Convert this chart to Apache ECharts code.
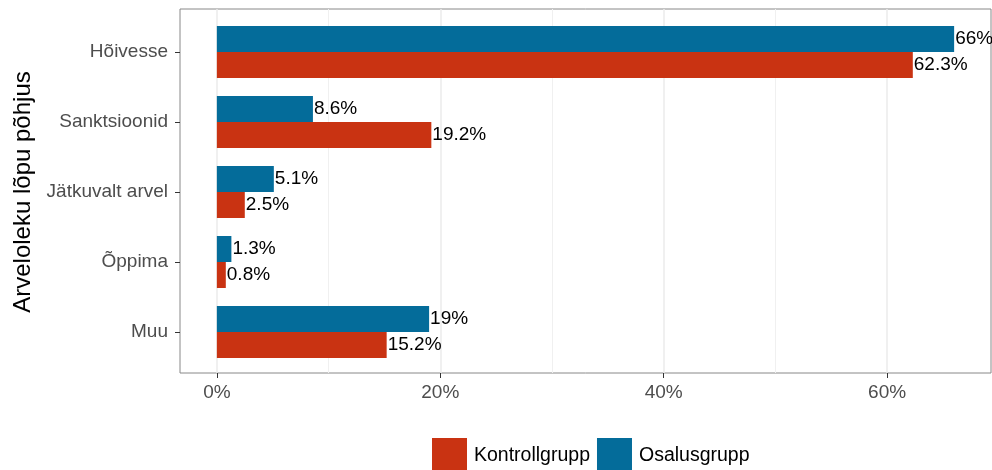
<!DOCTYPE html>
<html>
<head>
<meta charset="utf-8">
<script src="https://cdn.jsdelivr.net/npm/echarts@6/dist/echarts.min.js"></script>
<style>
  html, body { margin: 0; padding: 0; background: #ffffff; }
  #chart { width: 992px; height: 470px; }
</style>
</head>
<body>
<div id="chart"></div>
<script>
// Reasons for leaving the register, share of each group (%)
const categories = ['Hõivesse', 'Sanktsioonid', 'Jätkuvalt arvel', 'Õppima', 'Muu'];
const kontrollgrupp = [62.3, 19.2, 2.5, 0.8, 15.2];
const osalusgrupp = [66, 8.6, 5.1, 1.3, 19];
const majorTicks = [0, 20, 40, 60];
const minorTicks = [10, 30, 50];
const xMin = -3.3;
const xMax = 69.3;

const FONT = '"Liberation Sans", Arial, sans-serif';
const RED = '#C93312';
const BLUE = '#046C9A';

const chart = echarts.init(document.getElementById('chart'), null, { renderer: 'canvas' });

const barLabel = {
  show: true,
  position: 'right',
  distance: 1,
  color: '#000000',
  fontSize: 19,
  fontFamily: FONT,
  formatter: p => p.value + '%'
};

chart.setOption({
  animation: false,
  backgroundColor: '#ffffff',
  textStyle: { fontFamily: FONT },
  grid: [
    // panel with border and vertical gridlines
    { left: 180, right: 1, top: 9, height: 364, show: true, borderColor: '#888888', borderWidth: 1, backgroundColor: 'transparent', z: 0 },
    // bar area, categories spaced inside the panel
    { left: 180, right: 1, top: 17, height: 350, show: false }
  ],
  xAxis: [
    {
      type: 'value', gridIndex: 0, position: 'bottom',
      min: xMin, max: xMax, minInterval: 20, maxInterval: 20,
      axisLine: { show: false },
      axisTick: { show: true, customValues: majorTicks, length: 5, lineStyle: { color: '#333333', width: 1 } },
      axisLabel: { customValues: majorTicks, formatter: v => v + '%', color: '#4D4D4D', fontSize: 19, fontFamily: FONT, margin: 10 },
      splitLine: { show: true, lineStyle: { color: '#EBEBEB', width: 1.5 } }
    },
    {
      type: 'value', gridIndex: 0, position: 'top',
      min: xMin, max: xMax,
      axisLine: { show: false },
      axisTick: { show: false, customValues: minorTicks },
      axisLabel: { show: false, customValues: minorTicks },
      splitLine: { show: true, lineStyle: { color: '#F0F0F0', width: 1 } }
    },
    {
      type: 'value', gridIndex: 1,
      min: xMin, max: xMax,
      show: false
    }
  ],
  yAxis: [
    { type: 'value', gridIndex: 0, show: false, min: 0, max: 1, splitLine: { show: false } },
    {
      type: 'category', gridIndex: 1, data: categories, inverse: true,
      position: 'left',
      axisLine: { show: false, onZero: false },
      axisTick: { show: true, alignWithLabel: true, length: 5, lineStyle: { color: '#333333', width: 1 } },
      axisLabel: { color: '#4D4D4D', fontSize: 19, fontFamily: FONT, margin: 12 },
      splitLine: { show: false },
      name: 'Arveloleku lõpu põhjus',
      nameLocation: 'middle',
      nameRotate: 90,
      nameGap: 143,
      nameTextStyle: { color: '#000000', fontSize: 24, fontFamily: FONT }
    }
  ],
  legend: {
    data: ['Kontrollgrupp', 'Osalusgrupp'],
    left: 427, top: 433,
    icon: 'rect',
    itemWidth: 35, itemHeight: 35,
    itemGap: 7,
    textStyle: { color: '#000000', fontSize: 19.5, fontFamily: FONT, padding: [4, 0, 0, 2] }
  },
  series: [
    {
      name: 'Osalusgrupp', type: 'bar', xAxisIndex: 2, yAxisIndex: 1,
      data: osalusgrupp, barWidth: 26, barGap: '0%',
      itemStyle: { color: BLUE },
      label: barLabel
    },
    {
      name: 'Kontrollgrupp', type: 'bar', xAxisIndex: 2, yAxisIndex: 1,
      data: kontrollgrupp, barWidth: 26, barGap: '0%',
      itemStyle: { color: RED },
      label: barLabel
    }
  ]
});
</script>
</body>
</html>
